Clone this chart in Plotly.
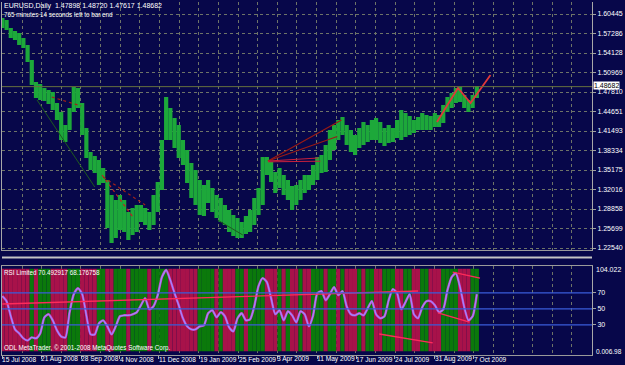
import numpy as np
import pandas as pd
import plotly.graph_objects as go

# ---------------- data ----------------
dates = pd.date_range("2008-07-15", periods=114, freq="4D")

high = [1.5980, 1.5948, 1.5818, 1.5769, 1.5737, 1.5656, 1.5543, 1.5300, 1.4943, 1.4911,
        1.4846, 1.4814, 1.4781, 1.4603, 1.4457, 1.4247, 1.4522, 1.4862, 1.4846, 1.4603,
        1.4198, 1.3809, 1.3744, 1.3680, 1.3550, 1.3356, 1.3113, 1.3032, 1.3113, 1.3032,
        1.2837, 1.2902, 1.2951, 1.2951, 1.2902, 1.2837, 1.3113, 1.3323, 1.4004, 1.4700,
        1.4522, 1.4360, 1.4247, 1.4004, 1.3842, 1.3631, 1.3518, 1.3356, 1.3275, 1.3356,
        1.3226, 1.3113, 1.3064, 1.2951, 1.2870, 1.2789, 1.2740, 1.2675, 1.2772, 1.2870,
        1.3064, 1.3226, 1.3728, 1.3728, 1.3647, 1.3485, 1.3550, 1.3437, 1.3356, 1.3258,
        1.3275, 1.3356, 1.3437, 1.3437, 1.3599, 1.3728, 1.3761, 1.3923, 1.4166, 1.4247,
        1.4328, 1.4376, 1.4247, 1.4166, 1.4085, 1.4198, 1.4295, 1.4247, 1.4328, 1.4360,
        1.4295, 1.4198, 1.4247, 1.4198, 1.4328, 1.4490, 1.4441, 1.4392, 1.4328, 1.4376,
        1.4441, 1.4409, 1.4392, 1.4441, 1.4409, 1.4571, 1.4700, 1.4765, 1.4846, 1.4862,
        1.4733, 1.4652, 1.4733, 1.4878]

low = [1.5818, 1.5786, 1.5656, 1.5624, 1.5543, 1.5494, 1.5267, 1.4895, 1.4684, 1.4652,
       1.4635, 1.4587, 1.4490, 1.4328, 1.4004, 1.3971, 1.4166, 1.4457, 1.4522, 1.4085,
       1.3712, 1.3518, 1.3469, 1.3275, 1.3307, 1.2578, 1.2335, 1.2416, 1.2546, 1.2513,
       1.2384, 1.2465, 1.2513, 1.2675, 1.2627, 1.2546, 1.2627, 1.2837, 1.3194, 1.4004,
       1.4004, 1.3874, 1.3712, 1.3599, 1.3307, 1.3064, 1.2951, 1.2789, 1.2772, 1.2983,
       1.2837, 1.2740, 1.2675, 1.2627, 1.2513, 1.2448, 1.2416, 1.2416, 1.2481, 1.2513,
       1.2627, 1.2789, 1.2951, 1.3437, 1.3323, 1.3145, 1.3226, 1.3113, 1.3032, 1.2870,
       1.2951, 1.3032, 1.3145, 1.3194, 1.3275, 1.3356, 1.3469, 1.3485, 1.3680, 1.3842,
       1.4004, 1.4085, 1.3923, 1.3809, 1.3761, 1.3874, 1.3923, 1.3971, 1.4004, 1.4004,
       1.3955, 1.3906, 1.3955, 1.3971, 1.4036, 1.4004, 1.4052, 1.4085, 1.4117, 1.4166,
       1.4166, 1.4166, 1.4166, 1.4214, 1.4214, 1.4279, 1.4457, 1.4522, 1.4603, 1.4619,
       1.4522, 1.4457, 1.4522, 1.4684]

rsi = [65.8, 59.5, 40.7, 24.4, 19.3, 13.1, 10.5, 14.3, 13.1, 19.3,
       39.4, 43.2, 35.6, 23.1, 15.6, 14.3, 45.7, 68.3, 75.8, 68.3,
       41.9, 18.1, 18.1, 31.9, 35.6, 28.2, 18.1, 28.2, 40.7, 41.9,
       41.9, 43.2, 45.7, 54.5, 63.2, 49.4, 53.2, 67.0, 89.6, 98.4,
       85.8, 69.5, 54.5, 38.2, 28.2, 24.4, 24.4, 28.2, 29.4, 44.4,
       48.2, 39.4, 45.7, 40.7, 26.9, 21.8, 38.2, 44.4, 35.6, 36.9,
       53.2, 78.3, 88.3, 83.3, 63.2, 43.2, 48.2, 35.6, 46.9, 41.9,
       33.1, 46.9, 43.2, 28.2, 41.9, 69.5, 72.0, 60.7, 68.3, 77.0,
       67.0, 72.0, 53.2, 43.2, 41.9, 44.4, 41.9, 50.7, 59.5, 43.2,
       38.2, 40.7, 60.7, 74.5, 69.5, 49.4, 58.2, 68.3, 43.2, 38.2,
       52.0, 59.5, 59.5, 54.5, 45.7, 49.4, 73.3, 89.6, 94.6, 77.0,
       52.0, 35.6, 40.7, 68.2]

price_tick_labels = ["1.60445", "1.57286", "1.54128", "1.50969", "1.47810", "1.44651",
                     "1.41493", "1.38334", "1.35175", "1.32016", "1.28858", "1.25699", "1.22540"]
time_labels = ["15 Jul 2008", "21 Aug 2008", "28 Sep 2008", "4 Nov 2008", "11 Dec 2008",
               "19 Jan 2009", "25 Feb 2009", "3 Apr 2009", "11 May 2009", "17 Jun 2009",
               "24 Jul 2009", "31 Aug 2009", "7 Oct 2009"]
rsi_levels = [70, 50, 30]
rsi_top_label, rsi_bottom_label = "104.022", "0.006.98"
last_price = 1.48682
title_line1 = "EURUSD,Daily  1.47898 1.48720 1.47617 1.48682"
title_line2 = "765 minutes 14 seconds left to bar end"
rsi_title = "RSI Limited 70.492917 68.176758"
copyright_txt = "ODL MetaTrader, \u00a9 2001-2008 MetaQuotes Software Corp."

# drawn objects (trend lines) on the price chart: (dates, prices, colour, dash, width)
price_lines = [
    (["2009-09-02", "2009-09-22", "2009-10-04", "2009-10-23"], [1.4295, 1.4846, 1.4603, 1.5057], "#E0383A", "solid", 1.8),
    (["2009-03-25", "2009-06-03"], [1.3663, 1.4328], "#9A1A14", "solid", 1.2),
    (["2009-03-25", "2009-05-30"], [1.3663, 1.4060], "#9A1A14", "solid", 1.2),
    (["2009-03-25", "2009-05-12"], [1.3663, 1.3712], "#C8203C", "solid", 1.0),
    (["2009-03-25", "2009-05-14"], [1.3650, 1.3660], "#C8203C", "solid", 1.0),
    (["2008-08-31", "2008-09-28"], [1.4700, 1.4554], "#A02018", "dot", 1.2),
    (["2008-08-17", "2008-10-11"], [1.4652, 1.3242], "#1E5A1E", "solid", 1.0),
    (["2008-10-18", "2008-11-17"], [1.3437, 1.2740], "#C02020", "dot", 1.2),
    (["2008-10-19", "2008-11-28"], [1.3404, 1.2951], "#A02018", "dot", 1.2),
    (["2009-02-05", "2009-03-01"], [1.2708, 1.2465], "#1E5A1E", "solid", 1.0),
]
# drawn lines on the RSI window
rsi_lines = [
    (["2008-07-15", "2009-08-15"], [56.0, 72.2]),
    (["2009-09-17", "2009-10-13"], [95.9, 88.4]),
    (["2009-09-03", "2009-10-03"], [44.8, 33.5]),
    (["2009-07-09", "2009-08-29"], [18.6, 7.4]),
]

# ---------------- styling / layout constants ----------------
W, H = 625, 365
BG = "#07074A"
GRID = "#6E7468"
FONT = "Liberation Sans"
PLOT_TOP, PLOT_BOT = 2, 355          # pixel rows of plot area
RIGHT_MARGIN = 33


def py(px):
    return (PLOT_BOT - px) / (PLOT_BOT - PLOT_TOP)


x_range = ["2008-07-14 15:00", "2010-01-27 17:00"]
grid_dtick = 18.71 * 86400000
day_ms = 86400000

high_a = np.array(high)
low_a = np.array(low)
rsi_a = np.array(rsi)
stripe_col = ["#A8124A"] + ["#0B790B" if rsi_a[i] > rsi_a[i - 1] else "#A8124A" for i in range(1, len(rsi_a))]

fig = go.Figure()

# price bars
fig.add_trace(go.Bar(x=dates, y=high_a - low_a, base=low_a, width=4 * day_ms,
                     marker=dict(color="#1DA83A", line=dict(width=0)),
                     xaxis="x", yaxis="y"))

for dx, dy, col, dash, wd in price_lines:
    fig.add_trace(go.Scatter(x=pd.to_datetime(dx), y=dy, mode="lines",
                             line=dict(color=col, dash=dash, width=wd), xaxis="x", yaxis="y"))

# RSI window: coloured stripes
stripe_bottom, stripe_top = -3.0, 100.0
fig.add_trace(go.Bar(x=dates, y=[stripe_top - stripe_bottom] * len(dates), base=stripe_bottom,
                     width=4 * day_ms, marker=dict(color=stripe_col, line=dict(width=0)),
                     xaxis="x2", yaxis="y2"))

fig.add_trace(go.Scatter(x=dates, y=rsi_a, mode="lines", line=dict(color="#C83CC0", width=2.4, shape="spline", smoothing=0.6),
                         xaxis="x2", yaxis="y2"))
fig.add_trace(go.Scatter(x=dates, y=rsi_a, mode="lines", line=dict(color="#9C8CFF", width=1.2, shape="spline", smoothing=0.6),
                         xaxis="x2", yaxis="y2"))

for dx, dy in rsi_lines:
    fig.add_trace(go.Scatter(x=pd.to_datetime(dx), y=dy, mode="lines",
                             line=dict(color="#FF2A5A", width=1.3), xaxis="x2", yaxis="y2"))

label_dates = pd.to_datetime(time_labels, format="%d %b %Y")

xcommon = dict(range=x_range, type="date", showticklabels=False, zeroline=False, automargin=False,
               tickmode="linear", tick0="2008-07-15", dtick=grid_dtick,
               showgrid=True, gridcolor=GRID, griddash="3px,3px", gridwidth=1,
               showline=True, linecolor="#9A9A9A", linewidth=1)

fig.update_layout(
    width=W, height=H,
    margin=dict(l=2, r=RIGHT_MARGIN, t=PLOT_TOP, b=H - PLOT_BOT, autoexpand=False),
    paper_bgcolor=BG, plot_bgcolor=BG,
    showlegend=False, barmode="overlay", hovermode=False,
    xaxis=dict(domain=[0, 1], anchor="y", ticks="", **xcommon),
    xaxis2=dict(domain=[0, 1], anchor="y2", mirror=True, ticks="",
                minor=dict(tickmode="array", tickvals=label_dates, ticks="outside", ticklen=3,
                           tickcolor="#B0B0B0", showgrid=False),
                **xcommon),
    yaxis=dict(domain=[py(250), 1], anchor="x", side="right", automargin=False,
               range=[1.22216, 1.62392], tickmode="array",
               tickvals=[float(t) for t in price_tick_labels], ticktext=price_tick_labels,
               tickfont=dict(family=FONT, size=7, color="#FFFFFF"),
               ticks="outside", ticklen=3, tickcolor="#A0A0A0",
               showgrid=True, gridcolor=GRID, griddash="3px,3px", gridwidth=1,
               showline=True, mirror=True, linecolor="#A8A8A8", zeroline=False),
    yaxis2=dict(domain=[0, py(265.5)], anchor="x2", side="right", automargin=False,
                range=[-7.6, 104.022], tickmode="array",
                tickvals=rsi_levels, ticktext=[str(v) for v in rsi_levels],
                tickfont=dict(family=FONT, size=7, color="#FFFFFF"),
                ticks="outside", ticklen=3, tickcolor="#A0A0A0",
                showgrid=False, showline=True, mirror=True, linecolor="#A8A8A8", zeroline=False),
)

shapes = [
    dict(type="line", xref="paper", yref="y", x0=0, x1=1, y0=last_price, y1=last_price,
         line=dict(color="#66703E", width=1)),
    dict(type="line", xref="paper", yref="paper", x0=0, x1=1, y0=py(257.5), y1=py(257.5),
         line=dict(color="#C4C4C4", width=2)),
]
for lv in rsi_levels:
    shapes.append(dict(type="line", xref="paper", yref="y2", x0=0, x1=1, y0=lv, y1=lv,
                       line=dict(color="#3A5CDA", width=1.2)))
fig.update_layout(shapes=shapes)

ann = [
    dict(text=title_line1, y=py(6.5), size=7),
    dict(text=title_line2, y=py(14.5), size=6.3),
    dict(text=rsi_title, y=py(272), size=6.3),
    dict(text=copyright_txt, y=py(348), size=6.3),
]
annotations = []
for a in ann:
    annotations.append(dict(text=a["text"], xref="paper", yref="paper", x=0, y=a["y"],
                            xanchor="left", yanchor="middle", showarrow=False,
                            font=dict(family=FONT, size=a["size"], color="#FFFFFF")))
annotations.append(dict(text=rsi_top_label, xref="paper", yref="paper", x=1, y=py(269.5), xshift=2,
                        xanchor="left", yanchor="middle", showarrow=False,
                        font=dict(family=FONT, size=7, color="#FFFFFF")))
annotations.append(dict(text=rsi_bottom_label, xref="paper", yref="paper", x=1, y=py(351), xshift=2,
                        xanchor="left", yanchor="middle", showarrow=False,
                        font=dict(family=FONT, size=6.5, color="#FFFFFF")))
annotations.append(dict(text=f"{last_price:.5f}", xref="paper", yref="y", x=1, y=last_price, xshift=1,
                        yshift=1, xanchor="left", yanchor="middle", showarrow=False, bgcolor="#FFFFFF",
                        borderpad=0, font=dict(family=FONT, size=7, color="#000000")))
for d, t in zip(label_dates, time_labels):
    annotations.append(dict(text=t, xref="x2", yref="paper", x=d, y=py(359), xanchor="left",
                            yanchor="middle", showarrow=False, xshift=-2,
                            font=dict(family=FONT, size=6.6, color="#FFFFFF")))
fig.update_layout(annotations=annotations)

fig.write_html("out.html")
